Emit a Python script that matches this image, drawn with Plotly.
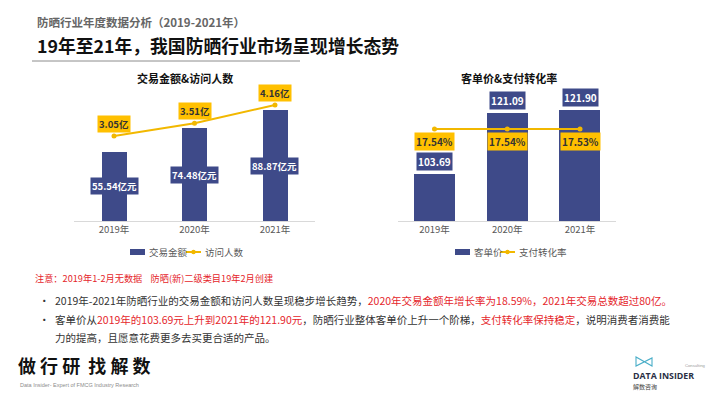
import plotly.graph_objects as go

# ---------------- data ----------------
years = ["2019年", "2020年", "2021年"]
trade_amount = [55.54, 74.48, 88.87]      # 亿元
visitors = [3.05, 3.51, 4.16]             # 亿
unit_price = [103.69, 121.09, 121.90]     # 元
pay_conversion = [17.54, 17.54, 17.53]    # %

left_title = "交易金额&访问人数"
right_title = "客单价&支付转化率"
series_names = ["交易金额", "访问人数", "客单价", "支付转化率"]

# ---------------- style ----------------
W, H = 710, 399
NAVY = "#3E4A89"
GOLD_LINE = "#F2B800"
GOLD_BOX = "#FFC000"
GRAY = "#595959"
RED = "#E5262B"
FONT = "Noto Sans CJK SC"

def py(px):  # pixel y (from top) -> paper
    return (H - px) / H

def px_(x):
    return x / W

fig = go.Figure()

fig.add_trace(go.Bar(x=years, y=trade_amount, xaxis="x", yaxis="y", width=0.31,
                     marker=dict(color=NAVY, line=dict(width=0)), name=series_names[0],
                     hoverinfo="skip"))
fig.add_trace(go.Scatter(x=years, y=visitors, xaxis="x", yaxis="y2", mode="lines+markers",
                         line=dict(color=GOLD_LINE, width=2), marker=dict(color=GOLD_LINE, size=5),
                         name=series_names[1], hoverinfo="skip"))
fig.add_trace(go.Bar(x=years, y=unit_price, xaxis="x2", yaxis="y3", width=0.565,
                     marker=dict(color=NAVY, line=dict(width=0)), name=series_names[2],
                     hoverinfo="skip"))
fig.add_trace(go.Scatter(x=years, y=pay_conversion, xaxis="x2", yaxis="y4", mode="lines+markers",
                         line=dict(color=GOLD_LINE, width=2), marker=dict(color=GOLD_LINE, size=5),
                         name=series_names[3], hoverinfo="skip"))

ydom = [py(221), py(95)]
xcommon = dict(showline=True, linecolor="#D9D9D9", linewidth=1, ticks="", showgrid=False,
               zeroline=False, tickfont=dict(family=FONT, size=9.5, color=GRAY), fixedrange=True)
ycommon = dict(visible=False, showgrid=False, zeroline=False, fixedrange=True)

annotations = []
# bar value labels (left, centred inside)
for x, v in zip(years, trade_amount):
    annotations.append(dict(x=x, y=v / 2, xref="x", yref="y", text=f"<b>{v:.2f}亿元</b>",
                            showarrow=False, bgcolor=NAVY, borderpad=1,
                            font=dict(family=FONT, size=9.5, color="white")))
# line labels (left, above points)
for x, v in zip(years, visitors):
    annotations.append(dict(x=x, y=v, xref="x", yref="y2", text=f"<b>{v:.2f}亿</b>",
                            showarrow=False, bgcolor=GOLD_BOX, borderpad=1, yshift=12,
                            font=dict(family=FONT, size=9.5, color="#333333")))
# bar value labels (right, above bars)
for x, v in zip(years, unit_price):
    annotations.append(dict(x=x, y=v, xref="x2", yref="y3", text=f"<b>{v:.2f}</b>",
                            showarrow=False, bgcolor=NAVY, borderpad=1, yanchor="bottom", yshift=3,
                            font=dict(family=FONT, size=10, color="white")))
# line labels (right, below points)
for x, v in zip(years, pay_conversion):
    annotations.append(dict(x=x, y=v, xref="x2", yref="y4", text=f"<b>{v:.2f}%</b>",
                            showarrow=False, bgcolor=GOLD_BOX, borderpad=1, yshift=-13,
                            font=dict(family=FONT, size=10, color="#333333")))

def txt(x, y, text, size, color="#333333", anchor="left", family=FONT, **kw):
    annotations.append(dict(x=px_(x), y=py(y), xref="paper", yref="paper", text=text,
                            showarrow=False, xanchor=anchor, yanchor="middle",
                            font=dict(family=family, size=size, color=color), **kw))

# headers
txt(35, 22, "<b>防晒行业年度数据分析（2019-2021年）</b>", 11.5, "#666666")
txt(35, 45, "<b>19年至21年，我国防晒行业市场呈现增长态势</b>", 17.8, "#111111")
# chart titles
txt(185, 78, f"<b>{left_title}</b>", 11, "#111111", anchor="center")
txt(509, 78, f"<b>{right_title}</b>", 11, "#111111", anchor="center")

# legends (drawn as key swatches + labels)
shapes = []
def legend_bar(x0, x1, y):
    shapes.append(dict(type="rect", xref="paper", yref="paper", x0=px_(x0), x1=px_(x1),
                       y0=py(y + 3), y1=py(y - 3), fillcolor=NAVY, line=dict(width=0)))
def legend_line(x0, x1, y):
    shapes.append(dict(type="line", xref="paper", yref="paper", x0=px_(x0), x1=px_(x1),
                       y0=py(y), y1=py(y), line=dict(color=GOLD_LINE, width=2)))
    xm = (x0 + x1) / 2
    shapes.append(dict(type="circle", xref="paper", yref="paper", x0=px_(xm - 2.2), x1=px_(xm + 2.2),
                       y0=py(y + 2.2), y1=py(y - 2.2), fillcolor=GOLD_LINE, line=dict(width=0)))

LEG_Y = 252
legend_bar(130, 145, LEG_Y)
txt(147, LEG_Y, series_names[0], 9.5, GRAY)
legend_line(186, 201, LEG_Y)
txt(203, LEG_Y, series_names[1], 9.5, GRAY)
legend_bar(455, 470, LEG_Y)
txt(472, LEG_Y, series_names[2], 9.5, GRAY)
legend_line(500, 515, LEG_Y)
txt(517, LEG_Y, series_names[3], 9.5, GRAY)

# notes
txt(33, 278, "注意：2019年1-2月无数据    防晒(新)二级类目19年2月创建", 9.2, RED)
txt(37, 300, "•", 10.5, "#333333")
txt(37, 319, "•", 10.5, "#333333")
txt(53, 300, "2019年-2021年防晒行业的交易金额和访问人数呈现稳步增长趋势，"
             f"<span style='color:{RED}'>2020年交易金额年增长率为18.59%，2021年交易总数超过80亿。</span>",
    10.5, "#333333")
txt(53, 319, f"客单价从<span style='color:{RED}'>2019年的103.69元上升到2021年的121.90元</span>，"
             f"防晒行业整体客单价上升一个阶梯，<span style='color:{RED}'>支付转化率保持稳定</span>，说明消费者消费能",
    10.5, "#333333")
txt(53, 337, "力的提高，且愿意花费更多去买更合适的产品。", 10.5, "#333333")

# footer
txt(16, 365, "<b>做 行 研  找 解 数</b>", 18, "#111111")
txt(18, 385, "Data Insider- Expert of FMCG Industry Research", 5.5, "#8C8C8C", family="Liberation Sans")
txt(632, 375.5, "<b>DATA INSIDER</b>", 8.8, "#2A2F45", family="Open Sans", borderpad=0)
txt(684, 365, "Consulting", 4.2, "#999999", family="Liberation Sans", borderpad=0)
txt(632, 386.5, "解数咨询", 6, "#444444", borderpad=0)

shapes += [
    dict(type="line", xref="paper", yref="paper", x0=px_(32), x1=px_(300), y0=py(61), y1=py(61),
         line=dict(color="#8C8C8C", width=1)),
    dict(type="path", xref="paper", yref="paper",
         path=f"M {px_(636)},{py(357)} L {px_(636)},{py(366)} L {px_(652)},{py(358)} L {px_(652)},{py(366)} Z",
         line=dict(color="#4AAEC8", width=1.1), fillcolor="rgba(0,0,0,0)"),
]

fig.update_layout(
    width=W, height=H, margin=dict(l=0, r=0, t=0, b=0),
    paper_bgcolor="white", plot_bgcolor="white",
    font=dict(family=FONT),
    bargap=0,
    showlegend=False,
    xaxis=dict(domain=[px_(73.8), px_(315.2)], anchor="y", **xcommon),
    yaxis=dict(domain=ydom, range=[0, 101], anchor="x", **ycommon),
    yaxis2=dict(overlaying="y", range=[0, 4.52], anchor="x", **ycommon),
    xaxis2=dict(domain=[px_(398.1), px_(616.4)], anchor="y3", **xcommon),
    yaxis3=dict(domain=ydom, range=[90.3, 126.2], anchor="x2", **ycommon),
    yaxis4=dict(overlaying="y3", range=[0, 24], anchor="x2", **ycommon),
    annotations=annotations,
    shapes=shapes,
)

fig.write_html("out.html", config={"displayModeBar": False},
               post_script="document.body.style.margin='0';document.body.style.padding='0';")
